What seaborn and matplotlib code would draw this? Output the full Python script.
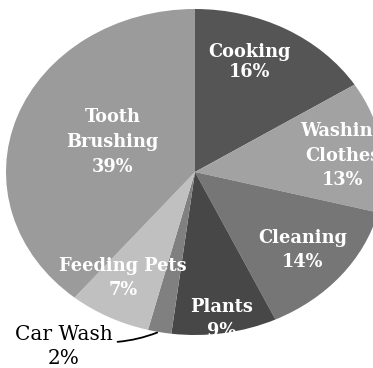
import matplotlib
matplotlib.use("Agg")
import matplotlib.pyplot as plt
import seaborn as sns

categories = ["Cooking", "Washing\nClothes", "Cleaning", "Plants", "Car Wash", "Feeding Pets", "Tooth\nBrushing"]
values = [16, 13, 14, 9, 2, 7, 39]
colors = ["#555555", "#a2a2a2", "#767676", "#474747", "#808080", "#c0c0c0", "#9b9b9b"]
# label anchor positions (normalized pie coords), white labels inside slices
label_pos = [(0.29, 0.675), (0.78, 0.10), (0.57, -0.48), (0.14, -0.90), None, (-0.38, -0.65), (-0.437, 0.187)]
label_spacing = [1.2, 1.45, 1.45, 1.4, None, 1.4, 1.5]

sns.set_theme(style="white")
plt.rcParams['font.family'] = ['DejaVu Serif']

fig = plt.figure(figsize=(3.73, 3.68), dpi=100)
ax = fig.add_axes([6/373, 33/368, 378/373, 326/368])
wedges, _ = ax.pie(values, colors=colors, startangle=90, counterclock=False,
                   wedgeprops=dict(linewidth=0))
ax.set_aspect('auto')
ax.set_xlim(-1, 1)
ax.set_ylim(-1, 1)
ax.axis('off')

for cat, v, pos, ls in zip(categories, values, label_pos, label_spacing):
    if pos is None:
        continue
    ax.text(pos[0], pos[1], f"{cat}\n{v}%", ha='center', va='center', color='white',
            fontsize=12.8, fontweight='bold', linespacing=ls, clip_on=False)

# Car Wash callout
ax.annotate(f"Car Wash\n{values[4]}%", xy=(-0.20, -0.985), xytext=(-0.693, -1.07),
            ha='center', va='center', fontsize=14.5, color='black', linespacing=1.3,
            annotation_clip=False,
            arrowprops=dict(arrowstyle='-', color='black', lw=1.3,
                            shrinkA=1, shrinkB=0,
                            relpos=(1.0, 0.6),
                            connectionstyle="arc3,rad=0.08"))

fig.savefig("out.png", dpi=100)
